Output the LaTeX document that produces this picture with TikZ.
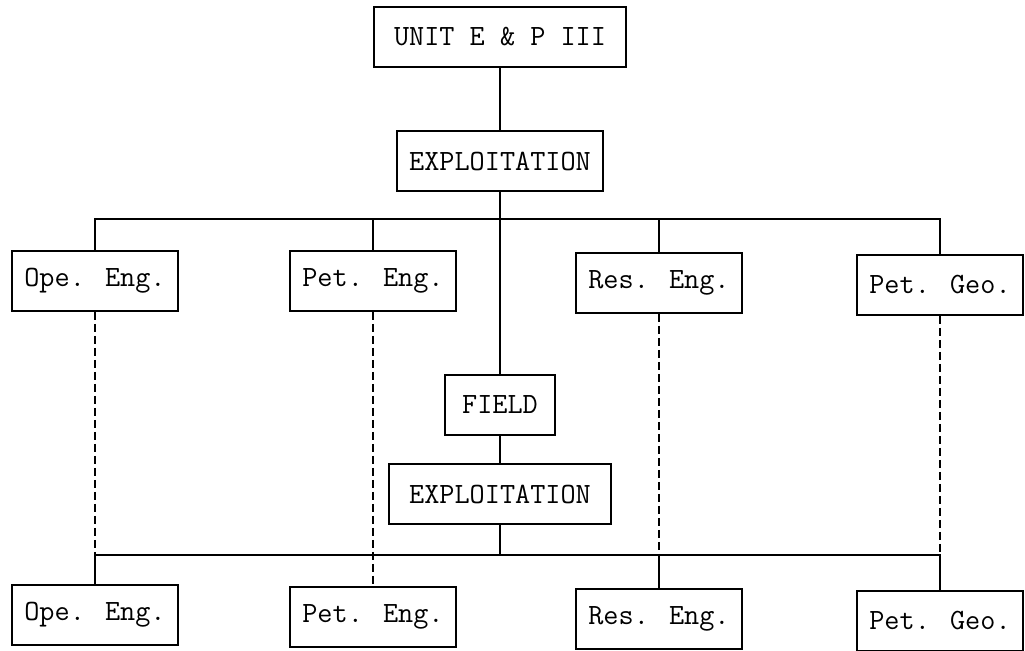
\documentclass[tikz,border=0pt]{standalone}
\usepackage{fontspec}
\usetikzlibrary{positioning, calc}
\tikzset{
  orgbox/.style={
    draw, line width=.9pt, font=\ttfamily\fontsize{14.7}{17}\selectfont,
    inner xsep=6pt, minimum height=30pt},
  link/.style={draw, line width=.9pt},
  dotlink/.style={draw, line width=.6pt, dash pattern=on 4pt off 2pt},
}
\begin{document}
\begin{tikzpicture}[x=.5pt, y=-.5pt]
  \useasboundingbox (0,0) rectangle (1025,651);
  \node[orgbox, minimum width=126pt] (unit) at (500,37) {UNIT E \& P III};
  \node[orgbox] (expl) at (500,161) {EXPLOITATION};
  % first row of departments
  \node[orgbox] (ope1) at (95,281) {Ope. Eng.};
  \node[orgbox] (peteng1) at (373,281) {Pet. Eng.};
  \node[orgbox] (reseng1) at (659,283) {Res. Eng.};
  \node[orgbox] (petgeo1) at (940,285) {Pet. Geo.};
  \node[orgbox, minimum width=55pt] (field) at (500,405) {FIELD};
  \node[orgbox, minimum width=111pt] (expl2) at (500,494) {EXPLOITATION};
  % second row of departments
  \node[orgbox] (ope2) at (95,615) {Ope. Eng.};
  \node[orgbox] (peteng2) at (373,617) {Pet. Eng.};
  \node[orgbox] (reseng2) at (659,619) {Res. Eng.};
  \node[orgbox] (petgeo2) at (940,621) {Pet. Geo.};
  \coordinate (busU) at (500,219);
  \coordinate (busL) at (500,555);
  \draw[link] (unit) -- (expl);
  \draw[link] (expl) -- (field);
  \foreach \n in {ope1, peteng1, reseng1, petgeo1}
    \draw[link] (\n.north) |- (busU);
  \draw[link] (field) -- (expl2);
  \draw[link] (expl2) -- (busL);
  \foreach \n in {ope2, reseng2, petgeo2}
    \draw[link] (\n.north) |- (busL);
  % dashed ties between the two rows
  \foreach \a in {ope1, reseng1, petgeo1}
    \draw[dotlink] (\a.south) -- (\a.south |- busL);
  \draw[dotlink] (peteng1) -- (peteng2);
\end{tikzpicture}
\end{document}
